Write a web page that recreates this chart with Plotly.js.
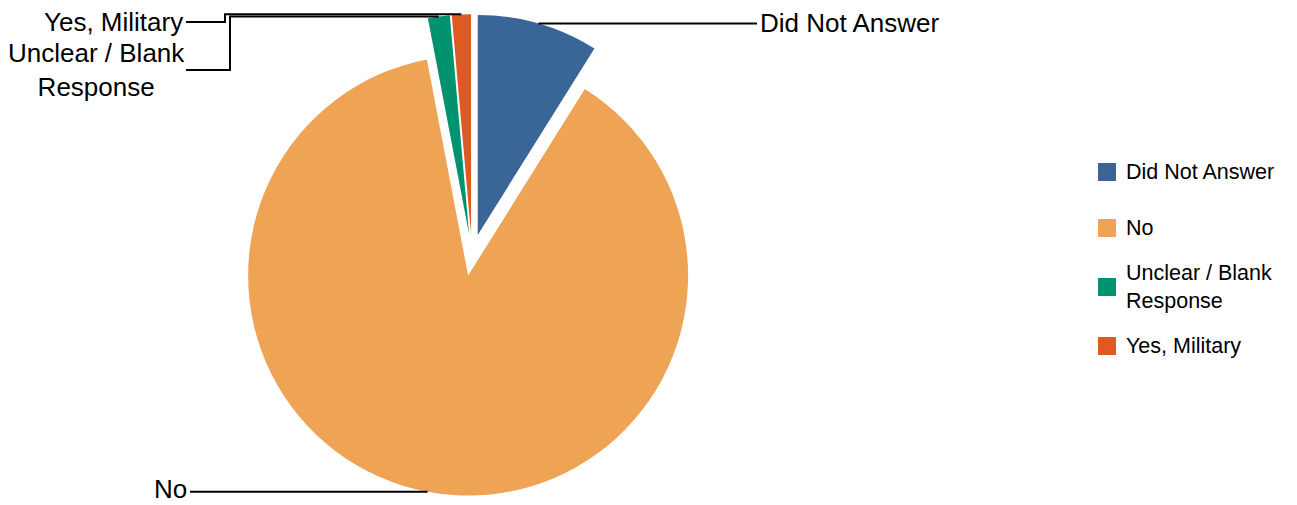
<!DOCTYPE html>
<html><head><meta charset="utf-8">
<script src="https://cdn.plot.ly/plotly-3.0.1.min.js"></script>
<style>html,body{margin:0;padding:0;background:#fff;}#chart{width:1297px;height:505px;}</style>
</head><body><div id="chart"></div>
<script>
// ---- data ----
const labels = ["Did Not Answer", "No", "Unclear / Blank Response", "Yes, Military"];
const displayLabels = ["Did Not Answer", "No", "Unclear / Blank<br>Response", "Yes, Military"];
const values = [8.9, 88.1, 1.6, 1.4];
const colors = ["#3A6597", "#EFA354", "#01936F", "#DD5A23"];

// ---- layout constants ----
const W = 1297, H = 505;
const PULL = 0.095;
const domX = [0.1639, 0.5639];
const domY = [0.018, 0.972];
const FONT = "Liberation Sans, Arial, sans-serif";

// pie geometry as plotly computes it
const boxW = W * (domX[1] - domX[0]);
const boxH = H * (domY[1] - domY[0]);
const r = Math.min(boxW, boxH) / 2 / (1 + PULL);
const cx = W * (domX[0] + domX[1]) / 2;
const cy = H * (1 - domY[0]) - boxH / 2;

const total = values.reduce((a, b) => a + b, 0);
let cum = 0;
const anchors = values.map(v => {
  const th = 2 * Math.PI * (cum + v / 2) / total;
  cum += v;
  const R = r * (1 + PULL);
  return [cx + R * Math.sin(th), cy - R * Math.cos(th)];
});

const px = x => x / W;
const py = y => 1 - y / H;

// label placement: elbow x, text y, text x, anchor, text y shift
const place = [
  {elbow: null, ty: null, tx: 758, end: 757, anchor: "left", dy: 0},
  {elbow: null, ty: null, tx: 189, end: 190, anchor: "right", dy: -2.5},
  {elbow: 230, ty: 70, tx: 187, end: 186, anchor: "right", dy: 0},
  {elbow: 225, ty: 22, tx: 185, end: 186, anchor: "right", dy: 0}
];

const shapes = [];
const annotations = [];
anchors.forEach((p, i) => {
  const pl = place[i];
  let path, ty;
  if (pl.elbow === null) {
    ty = p[1];
    path = `M${px(p[0])},${py(p[1])} L${px(pl.end)},${py(p[1])}`;
  } else {
    ty = pl.ty;
    path = `M${px(p[0])},${py(p[1])} L${px(pl.elbow)},${py(p[1])} L${px(pl.elbow)},${py(ty)} L${px(pl.end)},${py(ty)}`;
  }
  shapes.push({type: "path", xref: "paper", yref: "paper", path: path,
               line: {color: "#000", width: 2}});
  annotations.push({xref: "paper", yref: "paper", x: px(pl.tx), y: py(ty + pl.dy),
    xanchor: pl.anchor, yanchor: "middle", showarrow: false, align: "center",
    text: displayLabels[i], font: {family: FONT, size: 26, color: "#000"}});
});

// custom legend
const legY = [172, 228, 287, 346];
labels.forEach((lab, i) => {
  const c = legY[i];
  shapes.push({type: "rect", xref: "paper", yref: "paper",
    x0: px(1098), x1: px(1116), y0: py(c - 9), y1: py(c + 9),
    fillcolor: colors[i], line: {width: 0}});
  annotations.push({xref: "paper", yref: "paper", x: px(1124), y: py(c),
    xanchor: "left", yanchor: "middle", showarrow: false, align: "left",
    text: displayLabels[i], font: {family: FONT, size: 21.5, color: "#000"}});
});

const trace = {
  type: "pie",
  labels: labels,
  values: values,
  marker: {colors: colors},
  sort: false,
  direction: "clockwise",
  rotation: 0,
  pull: PULL,
  textinfo: "none",
  hoverinfo: "label+percent",
  domain: {x: domX, y: domY},
  showlegend: false
};

Plotly.newPlot("chart", [trace], {
  width: W, height: H,
  margin: {l: 0, r: 0, t: 0, b: 0},
  showlegend: false,
  paper_bgcolor: "#fff",
  plot_bgcolor: "#fff",
  shapes: shapes,
  annotations: annotations
}, {displayModeBar: false, staticPlot: true});
</script>
</body></html>
